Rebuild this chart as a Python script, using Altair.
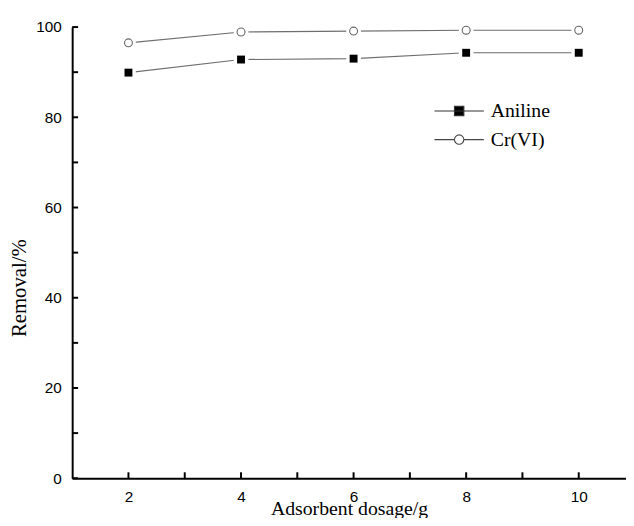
import altair as alt
import pandas as pd

# ---- data ----
dosage = [2, 4, 6, 8, 10]
aniline = [89.9, 92.8, 93.0, 94.3, 94.3]
crvi = [96.5, 98.9, 99.1, 99.3, 99.3]
series_names = ["Aniline", "Cr(VI)"]
x_major = [2, 4, 6, 8, 10]
x_minor = [3, 5, 7, 9]
y_major = [0, 20, 40, 60, 80, 100]
y_minor = [10, 30, 50, 70, 90]

W, H = 561, 457

df = pd.DataFrame({
    "dosage": dosage * 2,
    "removal": aniline + crvi,
    "series": [series_names[0]] * len(dosage) + [series_names[1]] * len(dosage),
})
xt = pd.DataFrame({"v": x_major + x_minor})
yt = pd.DataFrame({"v": y_major + y_minor})

xs = alt.Scale(domain=[1, 10.84], nice=False, zero=False)
ys = alt.Scale(domain=[0, 100], nice=False)

x_axis = alt.Axis(values=x_major, format="d", tickSize=0, labelPadding=12, labelFont="Liberation Sans",
                  labelFontSize=15.5, labelColor="black", domainColor="black", domainWidth=2,
                  grid=False, title="Adsorbent dosage/g", titleFont="Liberation Serif",
                  titleFontSize=20, titleFontWeight="normal", titleColor="black",
                  titleBaseline="alphabetic", titleY=37)
y_axis = alt.Axis(values=y_major, format="d", tickSize=0, labelPadding=11, labelFont="Liberation Sans",
                  labelFontSize=15.5, labelColor="black", domainColor="black", domainWidth=2,
                  grid=False, title="Removal/%", titleFont="Liberation Serif",
                  titleFontSize=21, titleFontWeight="normal", titleColor="black", titlePadding=6,
                  titleY=264)

base = alt.Chart(df)
X = alt.X("dosage:Q", scale=xs, axis=x_axis)
Y = alt.Y("removal:Q", scale=ys, axis=y_axis)

lines = base.mark_line(color="#6e6e6e", strokeWidth=1.1).encode(x=X, y=Y, detail="series:N")
halo = base.mark_point(shape="square", filled=True, color="white", opacity=1, size=220).encode(x=X, y=Y)
sq = base.transform_filter(alt.datum.series == series_names[0]).mark_point(
    shape="square", filled=True, color="black", opacity=1, size=64).encode(x=X, y=Y)
ci = base.transform_filter(alt.datum.series == series_names[1]).mark_point(
    shape="circle", fill="white", stroke="#666", strokeWidth=1.1, opacity=1, size=64).encode(x=X, y=Y)

xticks = alt.Chart(xt).mark_rule(color="black", strokeWidth=2).encode(
    x=alt.X("v:Q", scale=xs), y=alt.value(H), y2=alt.Y2Value(H - 6))
yticks = alt.Chart(yt).mark_rule(color="black", strokeWidth=2).encode(
    y=alt.Y("v:Q", scale=ys), x=alt.value(0), x2=alt.X2Value(6))

sq_path = "M-5,0H5M-0.95,-0.95H0.95V0.95H-0.95Z"
ci_path = "M-5,0H-0.95M0.95,0H5M0.95,0A0.95,0.95 0 1,1 -0.95,0A0.95,0.95 0 1,1 0.95,0Z"
leg_sc = dict(domain=series_names)
legend = alt.Legend(orient="none", legendX=382, legendY=75, title=None, padding=0,
                    labelFont="Liberation Serif", labelFontSize=20, labelColor="black",
                    symbolSize=100, symbolStrokeWidth=1.1, labelOffset=22, rowPadding=9,
                    symbolOpacity=1)
leg = base.transform_filter(alt.datum.series == "none").mark_point(opacity=1).encode(
    x=X, y=Y,
    shape=alt.Shape("series:N", scale=alt.Scale(range=[sq_path, ci_path], **leg_sc), legend=legend),
    fill=alt.Fill("series:N", scale=alt.Scale(range=["black", "white"], **leg_sc), legend=legend),
    stroke=alt.Stroke("series:N", scale=alt.Scale(range=["#333", "#444"], **leg_sc), legend=legend),
)

chart = alt.layer(lines, halo, sq, ci, xticks, yticks, leg).properties(
    width=W, height=H,
    autosize=alt.AutoSizeParams(type="none"),
    padding={"left": 65, "top": 16, "right": 0, "bottom": 37},
).configure_view(stroke=None)

chart.save("out.html", embed_options={"renderer": "svg", "actions": False})
